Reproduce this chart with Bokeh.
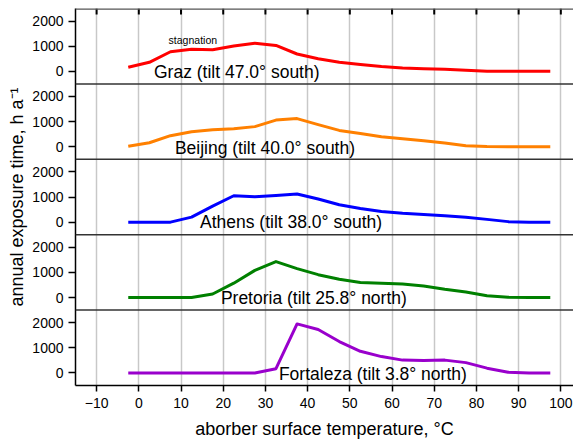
from bokeh.plotting import figure
from bokeh.models import Range1d, FixedTicker, Span, Title
from bokeh.core.properties import value
from bokeh.embed import file_html
from bokeh.resources import INLINE

# ---------------- data ----------------
temps = [-2.5, 2.5, 7.5, 12.5, 17.5, 22.5, 27.5, 32.5, 37.5, 42.5, 47.5,
         52.5, 57.5, 62.5, 67.5, 72.5, 77.5, 82.5, 87.5, 92.5, 97.5]

graz      = [160, 360, 780, 880, 860, 1010, 1120, 1030, 690, 500, 360,
             270, 190, 130, 100, 80, 40, 5, 0, 0, 0]
beijing   = [20, 160, 440, 600, 680, 720, 800, 1060, 1120, 880, 650,
             530, 400, 320, 240, 150, 40, 5, 0, 0, 0]
athens    = [0, 0, 0, 200, 640, 1050, 1010, 1060, 1120, 920, 690,
             540, 420, 350, 300, 250, 190, 110, 20, 0, 0]
pretoria  = [0, 0, 0, 0, 140, 570, 1080, 1430, 1150, 910, 730,
             600, 570, 540, 460, 330, 220, 70, 10, 0, 0]
fortaleza = [0, 0, 0, 0, 0, 0, 0, 170, 1950, 1730, 1250,
             860, 650, 510, 490, 510, 410, 190, 30, 0, 0]

series = [graz, beijing, athens, pretoria, fortaleza]
names = ["Graz (tilt 47.0° south)", "Beijing (tilt 40.0° south)",
         "Athens (tilt 38.0° south)", "Pretoria (tilt 25.8° north)",
         "Fortaleza (tilt 3.8° north)"]
colors = ["#ff0000", "#ff8000", "#0000ff", "#008000", "#9900cc"]

x_ticks = [-10, 0, 10, 20, 30, 40, 50, 60, 70, 80, 90, 100]
y_ticks = [0, 1000, 2000]

# ---------------- layout ----------------
W, H = 573, 442
LEFT, TOP, BOTTOM = 75, 8, 57
X0, X1 = -15, 103
P_LO, P_HI = -500, 2500
SPAN = P_HI - P_LO
N = len(series)
FRAME_H = H - TOP - BOTTOM
Y_TOP = P_LO + N * SPAN

label_pos = [(3.6, -35), (8.55, -45), (14.5, 5), (19.45, -35), (33.2, -35)]
FONT = value("Liberation Sans")

p = figure(width=W, height=H, x_range=Range1d(X0, X1),
           y_range=Range1d(P_LO, Y_TOP),
           output_backend="svg", toolbar_location=None,
           min_border_left=LEFT, min_border_right=0,
           min_border_top=TOP, min_border_bottom=BOTTOM)
p.outline_line_color = None
p.background_fill_color = "white"
p.border_fill_color = "white"

# grid
p.xgrid.ticker = FixedTicker(ticks=x_ticks)
p.xgrid.grid_line_color = "#c8c8c8"
p.xgrid.grid_line_width = 1.5
p.ygrid.visible = False

# bottom axis
xa = p.xaxis[0]
xa.ticker = FixedTicker(ticks=x_ticks)
xa.axis_line_color = "black"
xa.axis_line_width = 1.5
xa.major_tick_line_color = "black"
xa.major_tick_line_width = 1.5
xa.major_tick_in = 0
xa.major_tick_out = 6
xa.minor_tick_line_color = None
xa.major_label_text_font = "Liberation Sans"
xa.major_label_text_font_size = "14px"
xa.major_label_text_color = "black"
xa.major_label_standoff = 6
xa.axis_label = "aborber surface temperature, °C"
xa.axis_label_text_font = "Liberation Sans"
xa.axis_label_text_font_size = "18px"
xa.axis_label_text_font_style = "normal"
xa.axis_label_text_color = "black"
xa.axis_label_standoff = 8

# top frame line with inward ticks
p.add_layout(Span(location=Y_TOP, dimension="width",
                  line_color="#555555", line_width=2.5))
tick_len = 6 / FRAME_H * (N * SPAN)
p.segment(x0=x_ticks, x1=x_ticks, y0=[Y_TOP] * len(x_ticks),
          y1=[Y_TOP - tick_len] * len(x_ticks),
          line_color="black", line_width=2)

# left axis: tick labels repeated per panel
ya = p.yaxis[0]
ticks = []
overrides = {}
for k in range(N):
    for t in y_ticks:
        pos = t + k * SPAN
        ticks.append(pos)
        overrides[pos] = str(t)
ya.ticker = FixedTicker(ticks=ticks)
ya.major_label_overrides = overrides
ya.axis_line_color = "black"
ya.axis_line_width = 1.5
ya.major_tick_line_color = "black"
ya.major_tick_line_width = 1.5
ya.major_tick_in = 0
ya.major_tick_out = 7
ya.minor_tick_line_color = None
ya.major_label_text_font = "Liberation Sans"
ya.major_label_text_font_size = "14px"
ya.major_label_text_color = "black"
ya.major_label_standoff = 5

# y axis title
p.add_layout(Title(text="annual exposure time, h a⁻¹", align="center",
                   offset=15, standoff=6,
                   text_font="Liberation Sans", text_font_size="18px",
                   text_font_style="normal", text_color="black"), "left")

# panel separators
for k in range(1, N):
    p.add_layout(Span(location=P_LO + k * SPAN, dimension="width",
                      line_color="#333333", line_width=1.5))

# series
for i, (vals, name, col) in enumerate(zip(series, names, colors)):
    k = N - 1 - i  # panel index from bottom
    rname = f"panel{i}"
    p.extra_y_ranges[rname] = Range1d(P_LO - k * SPAN, P_LO + (N - k) * SPAN)
    p.line(temps, vals, y_range_name=rname, line_color=col, line_width=3,
           line_join="round")
    lx, ly = label_pos[i]
    p.text(x=[lx], y=[ly], text=[name], y_range_name=rname,
           text_font=FONT, text_font_size="17.5px", text_color="black",
           text_align="left", text_baseline="alphabetic")
    if i == 0:
        p.text(x=[7.06], y=[1230], text=["stagnation"], y_range_name=rname,
               text_font=FONT, text_font_size="10.5px", text_color="black",
               text_align="left", text_baseline="alphabetic")

open("out.html", "w").write(file_html(p, INLINE))
